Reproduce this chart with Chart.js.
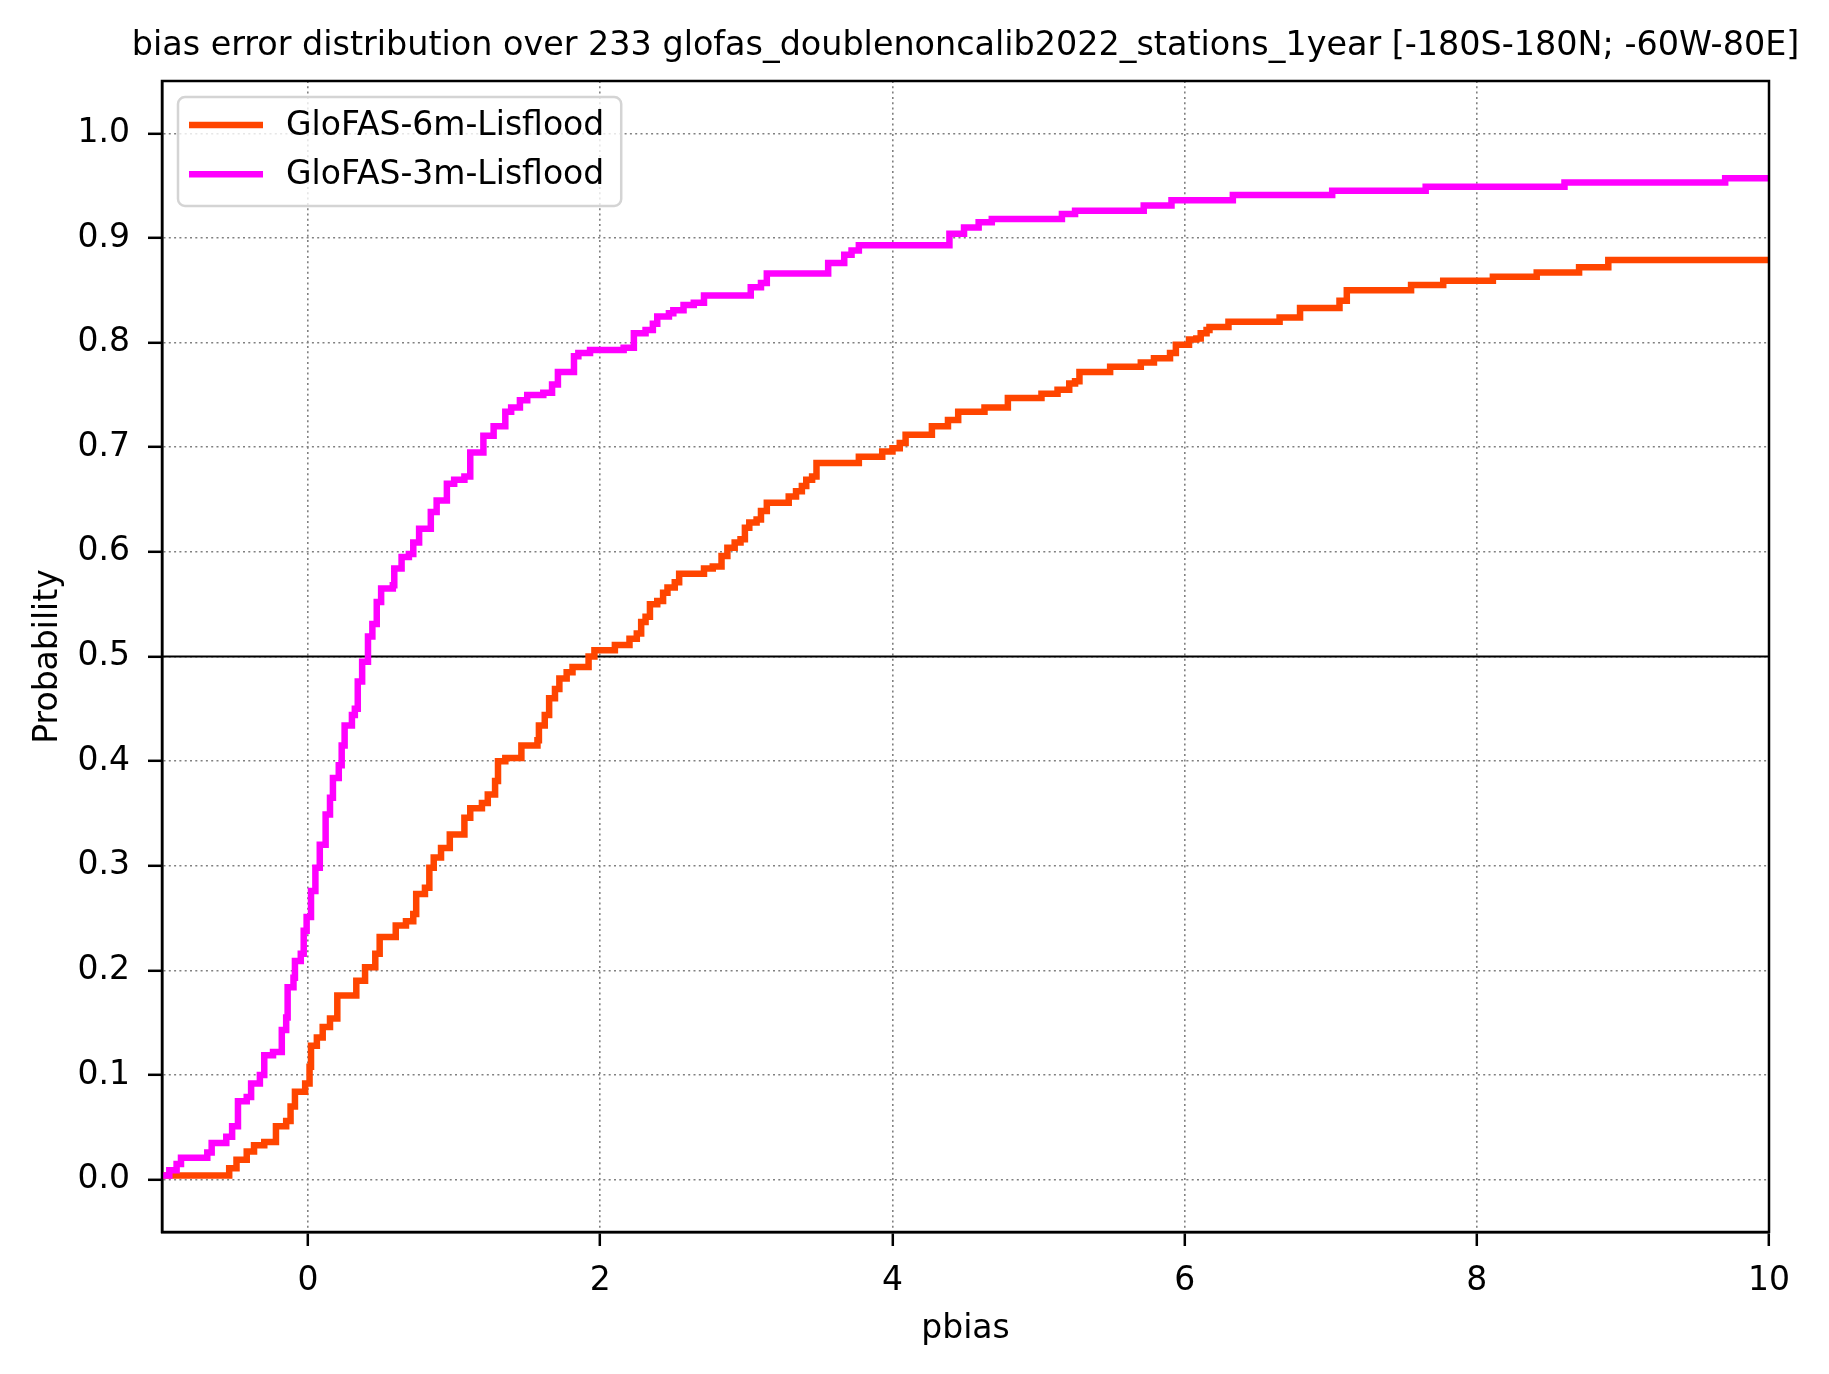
<!DOCTYPE html>
<html>
<head>
<meta charset="utf-8">
<script src="https://cdn.jsdelivr.net/npm/chart.js@4.4.1/dist/chart.umd.min.js"></script>
<style>
  html, body { margin: 0; padding: 0; background: #fff; }
  canvas { display: block; }
</style>
</head>
<body>
<canvas id="cdfChart" width="1829" height="1374"></canvas>
<script>
// bias values where each cumulative step begins, and the probability reached there
var pbias6m = [-1.0, -0.54, -0.49, -0.42, -0.37, -0.30, -0.22, -0.15, -0.12, -0.09, -0.02, 0.01, 0.02, 0.06, 0.10, 0.15,
  0.20, 0.33, 0.39, 0.46, 0.49, 0.60, 0.67, 0.72, 0.74, 0.80, 0.83, 0.86, 0.91, 0.97, 1.07, 1.11, 1.19, 1.23, 1.28,
  1.30, 1.35, 1.46, 1.57, 1.58, 1.62, 1.65, 1.69, 1.72, 1.77, 1.81, 1.92, 1.96, 2.10, 2.20, 2.25, 2.28, 2.31, 2.34,
  2.39, 2.43, 2.46, 2.51, 2.54, 2.71, 2.77, 2.83, 2.87, 2.92, 2.96, 2.99, 3.02, 3.07, 3.10, 3.14, 3.29, 3.34, 3.38,
  3.41, 3.45, 3.48, 3.77, 3.93, 4.00, 4.05, 4.09, 4.27, 4.38, 4.45, 4.63, 4.79, 5.02, 5.13, 5.21, 5.25, 5.28, 5.49,
  5.70, 5.79, 5.90, 5.94, 6.03, 6.08, 6.11, 6.15, 6.17, 6.30, 6.65, 6.79, 7.06, 7.11, 7.55, 7.77, 8.11, 8.41, 8.70,
  8.90, 10.0];
var prob6m = [0.004, 0.011, 0.019, 0.027, 0.033, 0.036, 0.051, 0.056, 0.070, 0.084, 0.092, 0.108, 0.128, 0.136, 0.146, 0.154,
  0.176, 0.190, 0.203, 0.216, 0.232, 0.243, 0.247, 0.254, 0.273, 0.279, 0.298, 0.308, 0.317, 0.330, 0.346, 0.355, 0.360, 0.368, 0.381,
  0.400, 0.403, 0.415, 0.420, 0.434, 0.444, 0.460, 0.469, 0.479, 0.485, 0.490, 0.500, 0.506, 0.511, 0.517, 0.522, 0.533, 0.538, 0.550,
  0.553, 0.561, 0.566, 0.571, 0.579, 0.584, 0.586, 0.596, 0.604, 0.609, 0.612, 0.623, 0.628, 0.631, 0.639, 0.647, 0.653, 0.658, 0.663,
  0.669, 0.672, 0.685, 0.691, 0.696, 0.699, 0.704, 0.712, 0.720, 0.726, 0.734, 0.738, 0.747, 0.751, 0.755, 0.761, 0.763, 0.772, 0.777,
  0.781, 0.785, 0.790, 0.798, 0.803, 0.804, 0.809, 0.812, 0.815, 0.820, 0.824, 0.833, 0.840, 0.850, 0.855, 0.859, 0.863, 0.867, 0.872,
  0.879, 0.879];

var pbias3m = [-1.0, -0.95, -0.90, -0.87, -0.69, -0.66, -0.56, -0.52, -0.48, -0.42, -0.39, -0.33, -0.30, -0.24, -0.18, -0.15,
  -0.14, -0.10, -0.09, -0.05, -0.03, -0.01, 0.02, 0.05, 0.08, 0.12, 0.15, 0.17, 0.21, 0.23, 0.25, 0.30, 0.32, 0.34, 0.37,
  0.41, 0.44, 0.47, 0.50, 0.58, 0.59, 0.64, 0.69, 0.72, 0.76, 0.84, 0.88, 0.95, 1.00, 1.07, 1.11, 1.20, 1.27, 1.35, 1.39,
  1.45, 1.50, 1.61, 1.67, 1.71, 1.82, 1.85, 1.93, 2.16, 2.23, 2.31, 2.36, 2.39, 2.47, 2.50, 2.57, 2.64, 2.71, 3.03, 3.10,
  3.14, 3.56, 3.67, 3.72, 3.77, 4.39, 4.49, 4.59, 4.68, 5.16, 5.25, 5.72, 5.91, 6.33, 7.01, 7.65, 8.60, 9.70, 10.0];
var prob3m = [0.004, 0.009, 0.015, 0.021, 0.026, 0.035, 0.041, 0.051, 0.075, 0.079, 0.092, 0.100, 0.119, 0.122, 0.143, 0.155,
  0.184, 0.193, 0.209, 0.216, 0.238, 0.251, 0.276, 0.298, 0.320, 0.349, 0.365, 0.384, 0.396, 0.415, 0.434, 0.444, 0.450, 0.476, 0.495,
  0.519, 0.531, 0.552, 0.565, 0.568, 0.584, 0.595, 0.598, 0.609, 0.622, 0.638, 0.649, 0.665, 0.669, 0.672, 0.695, 0.711, 0.720, 0.734, 0.738,
  0.745, 0.750, 0.752, 0.760, 0.772, 0.787, 0.790, 0.793, 0.795, 0.809, 0.812, 0.818, 0.825, 0.828, 0.831, 0.836, 0.838, 0.845, 0.853, 0.857,
  0.866, 0.876, 0.884, 0.888, 0.893, 0.904, 0.910, 0.915, 0.918, 0.923, 0.926, 0.931, 0.936, 0.941, 0.945, 0.949, 0.953, 0.957, 0.957];

var xTicks = [0, 2, 4, 6, 8, 10];
var yTicks = [0.0, 0.1, 0.2, 0.3, 0.4, 0.5, 0.6, 0.7, 0.8, 0.9, 1.0];
var medianLine = 0.5;
var chartTitle = 'bias error distribution over 233 glofas_doublenoncalib2022_stations_1year [-180S-180N; -60W-80E]';

var FONT = '"DejaVu Sans", "Liberation Sans", sans-serif';
var FS = 33;

function toPoints(xs, ys) {
    return xs.map(function (x, i) { return { x: x, y: ys[i] }; });
}

// black horizontal line at probability 0.5, drawn under the curves
var medianPlugin = {
    id: 'medianLine',
    beforeDatasetsDraw: function (chart) {
        var ctx = chart.ctx, area = chart.chartArea;
        var y = chart.scales.y.getPixelForValue(medianLine);
        ctx.save();
        ctx.strokeStyle = '#000';
        ctx.lineWidth = 1.8;
        ctx.beginPath();
        ctx.moveTo(area.left, y);
        ctx.lineTo(area.right, y);
        ctx.stroke();
        ctx.restore();
    }
};

// title centred over the plot (may run wider than the plot, like matplotlib)
var titlePlugin = {
    id: 'axesTitle',
    afterDraw: function (chart) {
        var ctx = chart.ctx, area = chart.chartArea;
        ctx.save();
        ctx.font = '33.4px ' + FONT;
        ctx.fillStyle = '#000';
        ctx.textAlign = 'center';
        ctx.textBaseline = 'middle';
        ctx.fillText(chartTitle, (area.left + area.right) / 2, area.top - 35);
        ctx.restore();
    }
};

// full frame + legend box in the upper left corner
var framePlugin = {
    id: 'frameAndLegend',
    afterDraw: function (chart) {
        var ctx = chart.ctx, area = chart.chartArea;
        ctx.save();
        ctx.strokeStyle = '#000';
        ctx.lineWidth = 2.5;
        ctx.strokeRect(area.left, area.top, area.right - area.left, area.bottom - area.top);

        ctx.font = FS + 'px ' + FONT;
        var sets = chart.data.datasets;
        var textW = 0;
        sets.forEach(function (d) { textW = Math.max(textW, ctx.measureText(d.label).width); });
        var x0 = area.left + 16, y0 = area.top + 16;
        var w = 11 + 74 + 23 + textW + 17, h = 109, r = 7;

        ctx.beginPath();
        ctx.roundRect(x0, y0, w, h, r);
        ctx.fillStyle = 'rgba(255,255,255,0.8)';
        ctx.fill();
        ctx.strokeStyle = '#d4d4d4';
        ctx.lineWidth = 2.5;
        ctx.stroke();

        sets.forEach(function (d, i) {
            var yy = y0 + 28 + i * 49.3;
            ctx.strokeStyle = d.borderColor;
            ctx.lineWidth = 6.5;
            ctx.beginPath();
            ctx.moveTo(x0 + 11, yy);
            ctx.lineTo(x0 + 85, yy);
            ctx.stroke();
            ctx.fillStyle = '#000';
            ctx.textBaseline = 'middle';
            ctx.textAlign = 'left';
            ctx.fillText(d.label, x0 + 108, yy + 1);
        });
        ctx.restore();
    }
};

var ctx = document.getElementById('cdfChart');
var cdfChart = new Chart(ctx, {
    type: 'line',
    data: {
        datasets: [{
            label: 'GloFAS-6m-Lisflood',
            data: toPoints(pbias6m, prob6m),
            borderColor: '#ff4500',
            borderWidth: 6.5,
            stepped: true,
            pointRadius: 0,
            fill: false,
            order: 1
        }, {
            label: 'GloFAS-3m-Lisflood',
            data: toPoints(pbias3m, prob3m),
            borderColor: '#ff00ff',
            borderWidth: 6.5,
            stepped: true,
            pointRadius: 0,
            fill: false,
            order: 0
        }]
    },
    options: {
        responsive: false,
        animation: false,
        devicePixelRatio: 1,
        layout: { padding: { left: 0, right: 60, top: 81, bottom: 0 } },
        plugins: {
            legend: { display: false },
            tooltip: { enabled: false },
            title: { display: false }
        },
        scales: {
            x: {
                type: 'linear',
                min: -1,
                max: 10,
                afterBuildTicks: function (scale) {
                    scale.ticks = xTicks.map(function (v) { return { value: v }; });
                },
                afterFit: function (scale) { scale.height = 142; },
                ticks: {
                    color: '#000',
                    font: { family: FONT, size: FS },
                    padding: 16,
                    maxRotation: 0,
                    callback: function (v) { return String(v); }
                },
                grid: {
                    color: '#808080',
                    lineWidth: 1.6,
                    tickColor: '#000',
                    tickWidth: 2.5,
                    tickLength: 14
                },
                border: { display: true, color: '#000', width: 2.5, dash: [2, 3.3] },
                title: {
                    display: true,
                    text: 'pbias',
                    color: '#000',
                    font: { family: FONT, size: FS },
                    padding: { top: 0, bottom: 25 }
                }
            },
            y: {
                type: 'linear',
                min: -0.05,
                max: 1.05,
                afterBuildTicks: function (scale) {
                    scale.ticks = yTicks.map(function (v) { return { value: v }; });
                },
                afterFit: function (scale) { scale.width = 162; },
                ticks: {
                    color: '#000',
                    font: { family: FONT, size: FS },
                    padding: 18,
                    callback: function (v) { return Number(v).toFixed(1); }
                },
                grid: {
                    color: '#808080',
                    lineWidth: 1.6,
                    tickColor: '#000',
                    tickWidth: 2.5,
                    tickLength: 14
                },
                border: { display: true, color: '#000', width: 2.5, dash: [2, 3.3] },
                title: {
                    display: true,
                    text: 'Probability',
                    color: '#000',
                    font: { family: FONT, size: FS },
                    padding: { top: 29, bottom: 0 }
                }
            }
        }
    },
    plugins: [medianPlugin, framePlugin, titlePlugin]
});
</script>
</body>
</html>
